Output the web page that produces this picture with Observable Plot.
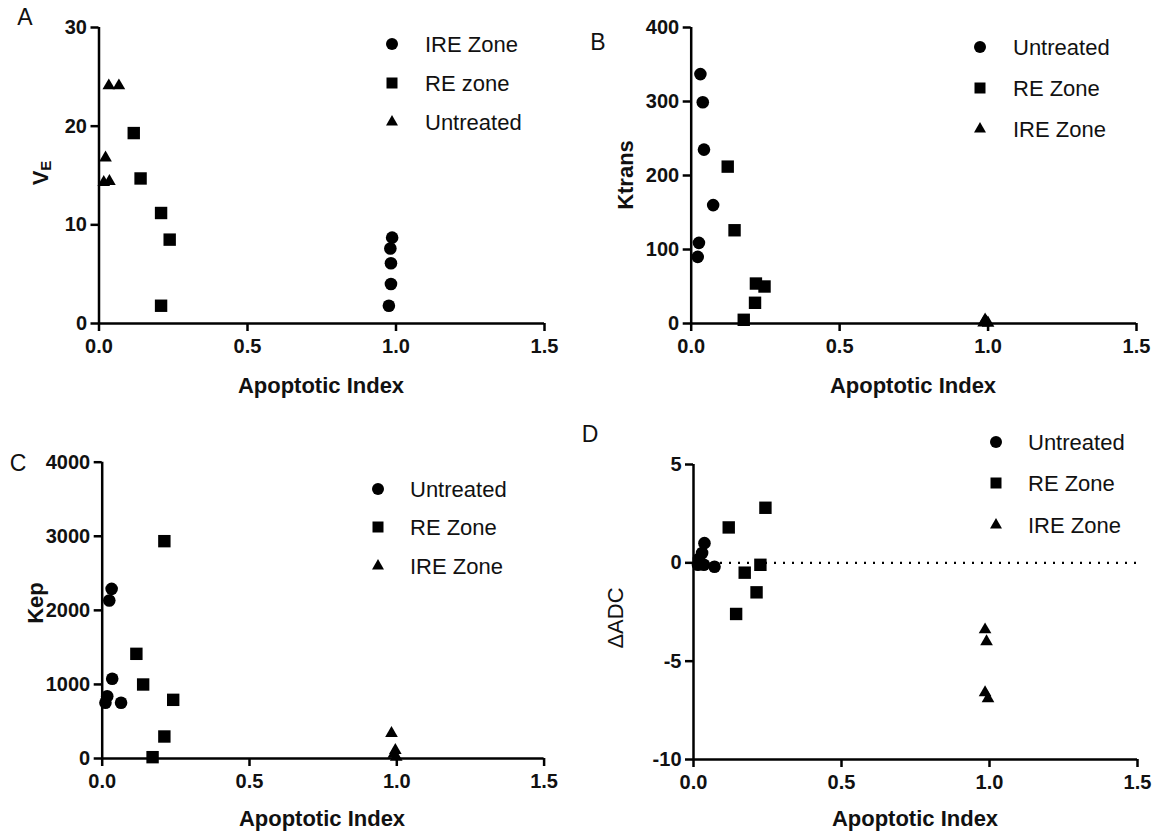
<!DOCTYPE html>
<html><head><meta charset="utf-8">
<script src="https://cdn.jsdelivr.net/npm/d3@7"></script>
<script src="https://cdn.jsdelivr.net/npm/@observablehq/plot@0.6"></script>
<style>
body{margin:0;background:#fff;}
#wrap{position:relative;width:1156px;height:832px;font-family:"Liberation Sans",Arial,sans-serif;overflow:hidden;}
.panel{position:absolute;}
#overlay{position:absolute;left:0;top:0;pointer-events:none;}
</style></head><body><div id="wrap"></div>
<script>
// ---- data ----
const X_TICKS = [0, 0.5, 1.0, 1.5];
const A_Y_TICKS = [0, 10, 20, 30];
const B_Y_TICKS = [0, 100, 200, 300, 400];
const C_Y_TICKS = [0, 1000, 2000, 3000, 4000];
const D_Y_TICKS = [-10, -5, 0, 5];

// Panel A (V_E)
const aIreX = [0.987, 0.981, 0.983, 0.983, 0.976];
const aIreY = [8.7, 7.6, 6.1, 4.0, 1.8];
const aReX = [0.117, 0.140, 0.209, 0.238, 0.209];
const aReY = [19.3, 14.7, 11.2, 8.5, 1.8];
const aUntX = [0.033, 0.067, 0.022, 0.016, 0.035];
const aUntY = [24.1, 24.1, 16.8, 14.3, 14.4];

// Panel B (Ktrans)
const bUntX = [0.031, 0.039, 0.043, 0.074, 0.026, 0.022];
const bUntY = [337, 299, 235, 160, 109, 90];
const bReX = [0.123, 0.146, 0.218, 0.247, 0.215, 0.177];
const bReY = [212, 126, 54, 50, 28, 5];
const bIreX = [0.99, 0.995, 0.985, 1.0];
const bIreY = [5, 2, 1, 0.5];

// Panel C (Kep)
const cUntX = [0.032, 0.024, 0.034, 0.017, 0.011, 0.064];
const cUntY = [2290, 2133, 1076, 841, 752, 752];
const cReX = [0.211, 0.116, 0.139, 0.241, 0.211, 0.171];
const cReY = [2934, 1413, 999, 792, 297, 18];
const cIreX = [0.982, 0.995, 0.99, 0.998];
const cIreY = [340, 110, 60, 20];

// Panel D (ΔADC)
const dUntX = [0.037, 0.029, 0.018, 0.015, 0.035, 0.071];
const dUntY = [1.0, 0.5, 0.2, -0.1, -0.1, -0.2];
const dReX = [0.119, 0.243, 0.173, 0.226, 0.213, 0.144];
const dReY = [1.8, 2.8, -0.5, -0.1, -1.5, -2.6];
const dIreX = [0.985, 0.99, 0.985, 0.995];
const dIreY = [-3.4, -4.0, -6.6, -6.9];

const LEGEND_A = ["IRE Zone", "RE zone", "Untreated"];
const LEGEND_BCD = ["Untreated", "RE Zone", "IRE Zone"];
const X_LABEL = "Apoptotic Index";

const rows = (xs, ys) => xs.map((x, i) => ({x, y: ys[i]}));

const SYM_R = {circle: 6.3, square: 7.0, triangle: 4.7};

function panel(cfg) {
  const [y0, y1] = cfg.yDomain;
  const marks = [
    Plot.ruleY([y0], {x1: 0, x2: 1.5, stroke: "#000", strokeWidth: 2.5}),
    Plot.ruleX([0], {y1: y0, y2: y1, stroke: "#000", strokeWidth: 2.5}),
    Plot.axisX({ticks: X_TICKS, tickFormat: d3.format(".1f"), tickSize: 8, tickPadding: 7,
      strokeWidth: 2.5, fontSize: 20, fontWeight: "bold", label: null, fill: "#111"}),
    Plot.axisY({ticks: cfg.yTicks, tickFormat: d => String(d).replace("\u2212", "-"), tickSize: 8, tickPadding: 4,
      strokeWidth: 2.5, fontSize: 20, fontWeight: "bold", label: null, fill: "#111"})
  ];
  if (cfg.zeroLine) marks.push(Plot.ruleY([0], {x1: 0, x2: 1.5, stroke: "#000", strokeWidth: 2.2, strokeDasharray: "2,7"}));
  for (const s of cfg.series) {
    marks.push(Plot.dot(rows(s.x, s.y), {x: "x", y: "y", symbol: s.symbol, r: SYM_R[s.symbol], fill: "#000", stroke: "none"}));
  }
  const p = Plot.plot({
    width: 578, height: 416,
    marginLeft: cfg.m[0], marginRight: cfg.m[1], marginTop: cfg.m[2], marginBottom: cfg.m[3],
    x: {domain: [0, 1.5]},
    y: {domain: cfg.yDomain},
    style: {fontFamily: "'Liberation Sans', Arial, sans-serif", background: "transparent", overflow: "visible"},
    marks
  });
  p.classList.add("panel");
  p.style.left = cfg.left + "px";
  p.style.top = cfg.top + "px";
  return p;
}

const wrap = document.getElementById("wrap");
const panels = [
  {left: 0, top: 0, m: [98.5, 34, 27, 93], yDomain: [0, 30], yTicks: A_Y_TICKS,
   series: [{x: aIreX, y: aIreY, symbol: "circle"}, {x: aReX, y: aReY, symbol: "square"}, {x: aUntX, y: aUntY, symbol: "triangle"}]},
  {left: 578, top: 0, m: [112.7, 20, 27, 93], yDomain: [0, 400], yTicks: B_Y_TICKS,
   series: [{x: bUntX, y: bUntY, symbol: "circle"}, {x: bReX, y: bReY, symbol: "square"}, {x: bIreX, y: bIreY, symbol: "triangle"}]},
  {left: 0, top: 416, m: [101.7, 34.4, 45.7, 74], yDomain: [0, 4000], yTicks: C_Y_TICKS,
   series: [{x: cUntX, y: cUntY, symbol: "circle"}, {x: cReX, y: cReY, symbol: "square"}, {x: cIreX, y: cIreY, symbol: "triangle"}]},
  {left: 578, top: 416, m: [115, 19, 48, 73], yDomain: [-10, 5], yTicks: D_Y_TICKS, zeroLine: true,
   series: [{x: dUntX, y: dUntY, symbol: "circle"}, {x: dReX, y: dReY, symbol: "square"}, {x: dIreX, y: dIreY, symbol: "triangle"}]}
];
for (const c of panels) wrap.appendChild(panel(c));

// ---- overlay: panel letters, axis titles, legends ----
const svg = d3.select(wrap).append("svg").attr("id", "overlay").attr("width", 1156).attr("height", 832)
  .style("font-family", "'Liberation Sans', Arial, sans-serif");

const letters = [["A", 25, 17], ["B", 598, 42], ["C", 18, 463], ["D", 590, 434]];
for (const [t, x, y] of letters) {
  svg.append("text").attr("x", x).attr("y", y).attr("text-anchor", "middle").attr("dominant-baseline", "central")
    .attr("font-size", 23).attr("fill", "#111").text(t);
}

const xTitles = [[321, 385], [913, 385], [322, 818], [915, 818]];
for (const [x, y] of xTitles) {
  svg.append("text").attr("x", x).attr("y", y).attr("text-anchor", "middle").attr("dominant-baseline", "central")
    .attr("font-size", 22).attr("font-weight", "bold").attr("fill", "#111").text(X_LABEL);
}

function yTitle(x, y, build, weight) {
  const t = svg.append("text").attr("transform", `translate(${x},${y}) rotate(-90)`)
    .attr("text-anchor", "middle").attr("dominant-baseline", "central")
    .attr("font-size", 22).attr("font-weight", weight).attr("fill", "#111");
  build(t);
}
yTitle(40, 173, t => { t.append("tspan").text("V"); t.append("tspan").attr("font-size", 15).attr("dy", 5).text("E"); }, "bold");
yTitle(625, 175, t => t.text("Ktrans"), "bold");
yTitle(35, 603, t => t.text("Kep"), "bold");
yTitle(615, 618, t => t.text("\u0394ADC"), "normal");

const symType = {circle: d3.symbolCircle, square: d3.symbolSquare, triangle: d3.symbolTriangle};
const symSize = {circle: Math.PI * 36, square: 121, triangle: 62};
function legend(sx, tx, ys, labels, syms) {
  labels.forEach((lab, i) => {
    svg.append("path").attr("transform", `translate(${sx},${ys[i]})`)
      .attr("d", d3.symbol(symType[syms[i]], symSize[syms[i]])()).attr("fill", "#000");
    svg.append("text").attr("x", tx).attr("y", ys[i]).attr("dominant-baseline", "central")
      .attr("font-size", 22).attr("fill", "#111").text(lab);
  });
}
const SYMS = ["circle", "square", "triangle"];
legend(392, 425, [44, 83, 122], LEGEND_A, SYMS);
legend(980, 1013, [47, 88, 129], LEGEND_BCD, SYMS);
legend(378, 410, [489, 527, 566], LEGEND_BCD, SYMS);
legend(996, 1028, [442, 483, 525], LEGEND_BCD, SYMS);
</script></body></html>
